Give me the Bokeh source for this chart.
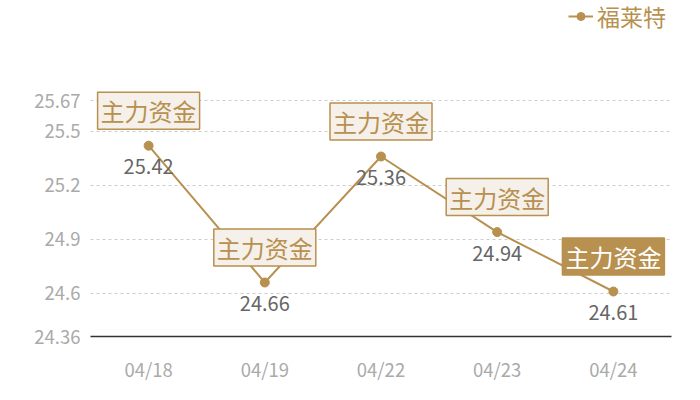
from bokeh.plotting import figure
from bokeh.models import FixedTicker, Legend, LegendItem, ColumnDataSource, Range1d
from bokeh.core.properties import value
from bokeh.embed import file_html
from bokeh.resources import INLINE

dates = ["04/18", "04/19", "04/22", "04/23", "04/24"]
prices = [25.42, 24.66, 25.36, 24.94, 24.61]
price_labels = ["25.42", "24.66", "25.36", "24.94", "24.61"]
series_name = "福莱特"
flag_text = ["主力资金", "主力资金", "主力资金", "主力资金", "主力资金"]
y_ticks = [24.36, 24.6, 24.9, 25.2, 25.5, 25.67]
y_tick_labels = ["24.36", "24.6", "24.9", "25.2", "25.5", "25.67"]

GOLD = "#B8904F"
FONT = "Noto Sans CJK SC"

W, H = 684, 384
BORDER_L, BORDER_R, BORDER_B = 90, 13, 47
# frame extends to the top of the figure; the axis top value sits TOP_GAP px below it
TOP_GAP = 100.5
frame_h = H - BORDER_B
y_min, y_max = y_ticks[0], y_ticks[-1]
y_end = y_max + TOP_GAP * (y_max - y_min) / (frame_h - TOP_GAP)

p = figure(width=W, height=H, x_range=dates, y_range=Range1d(y_min, y_end),
           output_backend="svg", toolbar_location=None)
p.min_border_left = BORDER_L
p.min_border_right = BORDER_R
p.min_border_top = 0
p.min_border_bottom = BORDER_B
p.outline_line_color = None
p.background_fill_color = "white"
p.border_fill_color = "white"

src = ColumnDataSource(dict(x=dates, y=prices, lbl=price_labels))

ln = p.line("x", "y", source=src, line_color=GOLD, line_width=2)
pts = p.scatter("x", "y", source=src, size=9, fill_color=GOLD, line_color=GOLD)

# value labels under points
p.text("x", "y", text="lbl", source=src, text_align="center", text_baseline="middle",
       y_offset=21, text_font=value(FONT), text_font_size="20px", text_color="#666666")

# flag boxes
src_a = ColumnDataSource(dict(x=dates[:-1], y=prices[:-1], flag=flag_text[:-1]))
src_b = ColumnDataSource(dict(x=dates[-1:], y=prices[-1:], flag=flag_text[-1:]))
pad = dict(left=3, right=3, top=1, bottom=1)
p.text("x", "y", text="flag", source=src_a, text_align="center", text_baseline="middle",
       y_offset=-35, text_font=value(FONT), text_font_size="24px", text_color=GOLD,
       background_fill_color="#F5F0EA", border_line_color=GOLD, border_line_width=1.5,
       padding=pad)
p.text("x", "y", text="flag", source=src_b, text_align="center", text_baseline="middle",
       y_offset=-35, text_font=value(FONT), text_font_size="24px", text_color="white",
       background_fill_color=GOLD, border_line_color=GOLD, border_line_width=1.5,
       padding=pad)

# axes
p.xaxis.axis_line_color = "#333333"
p.xaxis.axis_line_width = 1.5
p.xaxis.major_tick_line_color = None
p.xaxis.minor_tick_line_color = None
p.xaxis.major_label_text_color = "#AAAAAA"
p.xaxis.major_label_text_font = FONT
p.xaxis.major_label_text_font_size = "18.5px"
p.xaxis.major_label_standoff = 13

p.yaxis.ticker = FixedTicker(ticks=y_ticks)
p.yaxis.major_label_overrides = {t: l for t, l in zip(y_ticks, y_tick_labels)}
p.yaxis.axis_line_color = None
p.yaxis.major_tick_line_color = None
p.yaxis.minor_tick_line_color = None
p.yaxis.major_label_text_color = "#AAAAAA"
p.yaxis.major_label_text_font = FONT
p.yaxis.major_label_text_font_size = "18.5px"
p.yaxis.major_label_standoff = 4

p.xgrid.grid_line_color = None
p.ygrid.ticker = FixedTicker(ticks=y_ticks[1:])
p.ygrid.grid_line_color = "#CCCCCC"
p.ygrid.grid_line_dash = "3 3"

legend = Legend(items=[LegendItem(label=series_name, renderers=[ln, pts])],
                location=(478, frame_h - 34), orientation="horizontal",
                label_text_font=FONT, label_text_font_size="23px", label_text_color=GOLD,
                background_fill_alpha=0, border_line_color=None,
                glyph_width=25, label_standoff=4, padding=0, margin=0)
p.add_layout(legend, "center")

open("out.html", "w").write(file_html(p, INLINE))
